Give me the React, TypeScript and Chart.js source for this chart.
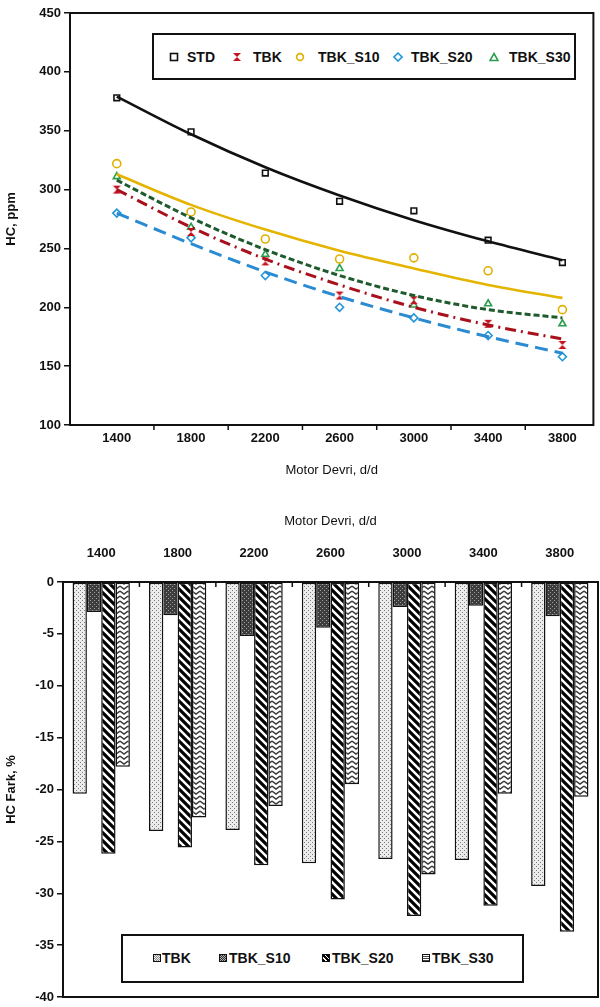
import React, { useEffect, useRef } from 'react';
import { Chart, registerables } from 'chart.js';
Chart.register(...registerables);

const FONT = "'Liberation Sans', Arial, sans-serif";

// ---------- data ----------
const rpmLabels = ['1400', '1800', '2200', '2600', '3000', '3400', '3800'];
const rpmValues = [1400, 1800, 2200, 2600, 3000, 3400, 3800];

// top chart: measured HC, ppm
const hcSTD = [378, 349, 314, 290, 282, 257, 238];
const hcTBK = [300, 264, 239, 210, 206, 186, 168];
const hcS10 = [322, 281, 258, 241, 242, 231, 198];
const hcS20 = [280, 259, 227, 200, 191, 176, 158];
const hcS30 = [311, 268, 245, 233, 202, 203, 186];

// top chart: trend curves (at each rpm)
const trendSTD = [379, 347, 319, 295, 274, 256, 240];
const trendTBK = [300, 268, 241, 219, 200, 185, 173];
const trendS10 = [313, 287, 266, 248, 233, 219, 208];
const trendS20 = [280, 254, 230, 209, 191, 175, 161];
const trendS30 = [308, 276, 249, 227, 210, 198, 191];

// bottom chart: HC difference, %
const diffTBK = [-20.4, -24.0, -23.9, -27.1, -26.7, -26.8, -29.3];
const diffS10 = [-2.9, -3.2, -5.2, -4.4, -2.4, -2.3, -3.3];
const diffS20 = [-26.2, -25.6, -27.3, -30.6, -32.2, -31.2, -33.7];
const diffS30 = [-17.8, -22.7, -21.6, -19.5, -28.2, -20.4, -20.7];

const topXMin = 1148, topXMax = 3967;
const topYMin = 100, topYMax = 450, topYStep = 50;
const botYMin = -40, botYMax = 0, botYStep = 5;

// ---------- styles ----------
const tickFont = { family: FONT, size: 13, weight: 'bold' };
const titleFont = { family: FONT, size: 13 };
const yTitleFont = { family: FONT, size: 13, weight: 'bold' };
const INK = '#111111';

const xy = (vals: number[]) => rpmValues.map((x, i) => ({ x, y: vals[i] }));

function makeHourglass(color: string) {
  const c = document.createElement('canvas');
  c.width = 10; c.height = 10;
  const g = c.getContext('2d')!;
  g.fillStyle = color;
  g.beginPath();
  g.moveTo(1, 1); g.lineTo(9, 1); g.lineTo(5, 5); g.lineTo(9, 9); g.lineTo(1, 9); g.lineTo(5, 5); g.closePath();
  g.fill();
  return c;
}

function makePattern(kind: string): CanvasPattern {
  const c = document.createElement('canvas');
  const g = c.getContext('2d')!;
  if (kind === 'lightDots') {
    c.width = 4; c.height = 4;
    g.fillStyle = '#ececec'; g.fillRect(0, 0, 4, 4);
    g.fillStyle = '#7a7a7a'; g.fillRect(0, 0, 1, 1); g.fillRect(2, 2, 1, 1);
  } else if (kind === 'darkDots') {
    c.width = 4; c.height = 4;
    g.fillStyle = '#3c3c3c'; g.fillRect(0, 0, 4, 4);
    g.fillStyle = '#a0a0a0'; g.fillRect(0, 0, 1, 1); g.fillRect(2, 2, 1, 1);
  } else if (kind === 'diag') {
    c.width = 8; c.height = 8;
    g.fillStyle = '#ffffff'; g.fillRect(0, 0, 8, 8);
    g.strokeStyle = '#000'; g.lineWidth = 3.2;
    g.beginPath();
    g.moveTo(-2, -2); g.lineTo(10, 10);
    g.moveTo(-2, 6); g.lineTo(2, 10);
    g.moveTo(6, -2); g.lineTo(10, 2);
    g.stroke();
  } else {
    c.width = 8; c.height = 5;
    g.fillStyle = '#ffffff'; g.fillRect(0, 0, 8, 5);
    g.strokeStyle = '#3a3a3a'; g.lineWidth = 1.4;
    g.beginPath(); g.moveTo(0, 1); g.lineTo(4, 4); g.lineTo(8, 1); g.stroke();
  }
  return g.createPattern(c, 'repeat')!;
}

const framePlugin = {
  id: 'frame',
  afterDraw(chart: any) {
    const { ctx, chartArea: a } = chart;
    ctx.save();
    ctx.strokeStyle = INK;
    ctx.lineWidth = 2;
    ctx.strokeRect(a.left, a.top, a.right - a.left, a.bottom - a.top);
    ctx.restore();
  },
};

// small tick marks between neighbouring category labels
function betweenTicks(inside: boolean) {
  return {
    id: 'betweenTicks',
    afterDraw(chart: any) {
      const { ctx, chartArea: a } = chart;
      const xs = chart.scales.x;
      ctx.save();
      ctx.strokeStyle = INK;
      ctx.lineWidth = 1.5;
      ctx.beginPath();
      const n = xs.ticks.length;
      for (let i = 1; i < n; i++) {
        const px = (xs.getPixelForTick(i - 1) + xs.getPixelForTick(i)) / 2;
        if (inside) { ctx.moveTo(px, a.top); ctx.lineTo(px, a.top + 5); }
        else { ctx.moveTo(px, a.bottom); ctx.lineTo(px, a.bottom + 5); }
      }
      ctx.stroke();
      ctx.restore();
    },
  };
}

const noEdgePadding = (s: any) => {
  s.paddingLeft = 0; s.paddingRight = 0; s.paddingTop = 0; s.paddingBottom = 0;
};

function pointSet(label: string, data: number[], color: string, style: any, radius = 4) {
  return {
    label, data: xy(data), showLine: false,
    pointStyle: style, pointRadius: radius, pointBorderColor: color,
    pointBackgroundColor: 'rgba(0,0,0,0)', pointBorderWidth: 1.6,
    borderColor: color, backgroundColor: color,
  };
}
function trendSet(data: number[], color: string, dash: number[], width = 3) {
  return {
    label: '', data: xy(data), borderColor: color, borderWidth: width, borderDash: dash,
    pointRadius: 0, fill: false, cubicInterpolationMode: 'monotone' as const,
  };
}

export default function App() {
  const topRef = useRef<HTMLCanvasElement>(null);
  const botRef = useRef<HTMLCanvasElement>(null);

  useEffect(() => {
    const hourglass = makeHourglass('#c3121e');
    const top = new Chart(topRef.current!, {
      type: 'line',
      data: {
        datasets: [
          trendSet(trendS20, '#2a8ad2', [13, 7]),
          trendSet(trendTBK, '#a8101c', [11, 5, 2, 5]),
          trendSet(trendS30, '#1d5a2c', [6, 3]),
          trendSet(trendS10, '#e4b400', [], 2.6),
          trendSet(trendSTD, '#111111', [], 2.6),
          pointSet('STD', hcSTD, '#111111', 'rect', 4),
          pointSet('TBK', hcTBK, '#c3121e', hourglass, 5),
          pointSet('TBK_S10', hcS10, '#e0b000', 'circle', 4),
          pointSet('TBK_S20', hcS20, '#2196d9', 'rectRot', 4),
          pointSet('TBK_S30', hcS30, '#2a9e4e', 'triangle', 4),
        ] as any,
      },
      options: {
        animation: false,
        responsive: false,
        maintainAspectRatio: false,
        layout: { padding: { top: 13, right: 0, left: 0, bottom: 0 } },
        plugins: { legend: { display: false }, tooltip: { enabled: false } },
        scales: {
          x: {
            type: 'linear',
            min: topXMin, max: topXMax,
            afterBuildTicks: (s: any) => { s.ticks = rpmValues.map((v) => ({ value: v })); },
            grid: { drawOnChartArea: false, drawTicks: false },
            border: { color: INK, width: 2 },
            ticks: { font: tickFont, color: INK, padding: 6, autoSkip: false, maxRotation: 0, callback: (v: any) => String(v) },
            title: { display: true, text: 'Motor Devri, d/d', font: titleFont, color: INK, padding: { top: 0, bottom: 12 } },
            afterFit: (s: any) => { s.height = 65; noEdgePadding(s); },
          },
          y: {
            min: topYMin, max: topYMax,
            ticks: { stepSize: topYStep, font: tickFont, color: INK, padding: 3 },
            grid: { drawOnChartArea: false, tickLength: 6, color: INK, lineWidth: 1.5 },
            border: { color: INK, width: 2 },
            title: { display: true, text: 'HC, ppm', font: yTitleFont, color: INK, padding: { top: 4, bottom: 0 } },
            afterFit: (s: any) => { s.width = 70; noEdgePadding(s); },
          },
        },
      } as any,
      plugins: [framePlugin, betweenTicks(false)],
    });

    const bot = new Chart(botRef.current!, {
      type: 'bar',
      data: {
        labels: rpmLabels,
        datasets: [
          { label: 'TBK', data: diffTBK, backgroundColor: makePattern('lightDots') },
          { label: 'TBK_S10', data: diffS10, backgroundColor: makePattern('darkDots') },
          { label: 'TBK_S20', data: diffS20, backgroundColor: makePattern('diag') },
          { label: 'TBK_S30', data: diffS30, backgroundColor: makePattern('zigzag') },
        ].map((d) => ({
          ...d, borderColor: '#111', borderWidth: 1.5, borderSkipped: false,
          barPercentage: 1, categoryPercentage: 0.75,
        })) as any,
      },
      options: {
        animation: false,
        responsive: false,
        maintainAspectRatio: false,
        layout: { padding: { top: 0, right: 2, left: 0, bottom: 10 } },
        plugins: { legend: { display: false }, tooltip: { enabled: false } },
        scales: {
          x: {
            type: 'category',
            position: 'top',
            offset: true,
            grid: { offset: true, drawOnChartArea: false, drawTicks: false },
            border: { color: INK, width: 2 },
            ticks: { font: tickFont, color: INK, padding: 21 },
            title: { display: true, text: 'Motor Devri, d/d', font: titleFont, color: INK, padding: { top: 24, bottom: 0 } },
            afterFit: (s: any) => { s.height = 92; noEdgePadding(s); },
          },
          y: {
            min: botYMin, max: botYMax,
            ticks: { stepSize: botYStep, font: tickFont, color: INK, padding: 3 },
            grid: { drawOnChartArea: false, tickLength: 6, color: INK, lineWidth: 1.5 },
            border: { color: INK, width: 2 },
            title: { display: true, text: 'HC Fark, %', font: yTitleFont, color: INK, padding: { top: 4, bottom: 0 } },
            afterFit: (s: any) => { s.width = 63; noEdgePadding(s); },
          },
        },
      } as any,
      plugins: [framePlugin, betweenTicks(true)],
    });

    return () => { top.destroy(); bot.destroy(); };
  }, []);

  const legText: React.CSSProperties = { position: 'absolute', fontSize: 14, fontWeight: 'bold', color: INK, lineHeight: '16px', whiteSpace: 'nowrap' };
  const topItems = [
    { name: 'STD', mx: 174, tx: 187, icon: <rect x={1.5} y={1.5} width={7} height={7} fill="none" stroke="#111" strokeWidth={1.6} /> },
    { name: 'TBK', mx: 237, tx: 253, icon: <path d="M1 1 L9 1 L5 5 L9 9 L1 9 L5 5 Z" fill="#c3121e" /> },
    { name: 'TBK_S10', mx: 300, tx: 318, icon: <circle cx={5} cy={5} r={3.4} fill="none" stroke="#e0b000" strokeWidth={1.6} /> },
    { name: 'TBK_S20', mx: 398, tx: 411, icon: <path d="M5 1 L9 5 L5 9 L1 5 Z" fill="none" stroke="#2196d9" strokeWidth={1.6} /> },
    { name: 'TBK_S30', mx: 494, tx: 509, icon: <path d="M5 1.5 L9 8.5 L1 8.5 Z" fill="none" stroke="#2a9e4e" strokeWidth={1.6} /> },
  ];
  const topBox = { left: 152, top: 33, width: 424, height: 47 };
  const botItems = [
    { name: 'TBK', mx: 157, tx: 162, bg: 'repeating-conic-gradient(#8a8a8a 0 25%, #eeeeee 0 50%) 0 0 / 2px 2px' },
    { name: 'TBK_S10', mx: 223, tx: 229, bg: 'repeating-conic-gradient(#aaaaaa 0 25%, #333333 0 50%) 0 0 / 2px 2px' },
    { name: 'TBK_S20', mx: 326, tx: 332, bg: 'repeating-linear-gradient(45deg, #000 0 2px, #fff 2px 3px)' },
    { name: 'TBK_S30', mx: 426, tx: 432, bg: 'repeating-linear-gradient(0deg, #444 0 1px, #fff 1px 2px)' },
  ];
  const botBox = { left: 121, top: 934, width: 403, height: 49 };

  return (
    <div style={{ position: 'absolute', left: 0, top: 0, width: 600, height: 1007, background: '#fff', fontFamily: FONT }}>
      <canvas ref={topRef} width={600} height={490} style={{ position: 'absolute', left: 0, top: 0, display: 'block' }} />
      <canvas ref={botRef} width={600} height={517} style={{ position: 'absolute', left: 0, top: 490, display: 'block' }} />

      <div style={{ position: 'absolute', left: topBox.left, top: topBox.top, width: topBox.width, height: topBox.height, border: `2px solid ${INK}`, boxSizing: 'border-box', background: '#fff' }} />
      {topItems.map((it) => (
        <React.Fragment key={it.name}>
          <svg width={10} height={10} style={{ position: 'absolute', left: it.mx - 5, top: 52 }}>{it.icon}</svg>
          <span style={{ ...legText, left: it.tx, top: 49 }}>{it.name}</span>
        </React.Fragment>
      ))}

      <div style={{ position: 'absolute', left: botBox.left, top: botBox.top, width: botBox.width, height: botBox.height, border: `2px solid ${INK}`, boxSizing: 'border-box', background: '#fff' }} />
      {botItems.map((it) => (
        <React.Fragment key={it.name}>
          <div style={{ position: 'absolute', left: it.mx - 4, top: 954, width: 6, height: 6, border: '1px solid #111', background: it.bg }} />
          <span style={{ ...legText, left: it.tx, top: 950 }}>{it.name}</span>
        </React.Fragment>
      ))}
    </div>
  );
}
